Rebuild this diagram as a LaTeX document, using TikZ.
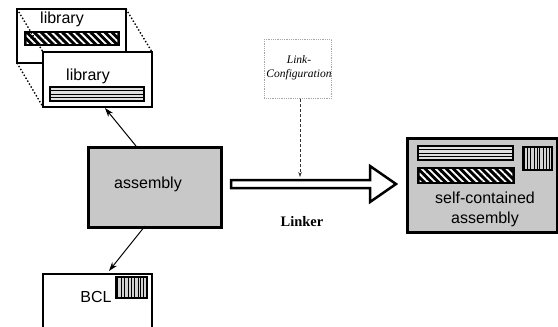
\documentclass[tikz,border=0pt]{standalone}
\usepackage{fontspec}
\setmainfont{Liberation Sans}
\newfontfamily\serifface{Liberation Serif}
\usetikzlibrary{arrows.meta,patterns.meta}
\definecolor{boxgray}{RGB}{200,200,200}
\tikzset{
  box/.style={draw=black,line width=2.5pt},
  label/.style={font=\fontsize{16}{18}\selectfont,inner sep=0pt},
  conn/.style={draw=black,line width=1pt,-{Stealth[length=9pt,width=6pt]}},
  fold/.style={draw=black,line width=1.4pt,dotted},
}
% striped bar: light body with three rules
\newcommand\stripedbar[4]{%
  \fill[black!12] (#1,#2) rectangle (#3,#4);
  \foreach \k in {1,2,3}{\draw[line width=1pt] (#1,{#2+\k*(#4-#2)/4}) -- (#3,{#2+\k*(#4-#2)/4});}
  \draw[line width=1.3pt] (#1,#2) rectangle (#3,#4);}
% hatched bar: black body with white slanted stripes
\newcommand\hatchedbar[4]{%
  \fill[black] (#1,#2) rectangle (#3,#4);
  \fill[pattern={Lines[angle=-45,distance=5pt,line width=1.8pt]},pattern color=white] ({#1+1.6},{#2+1.6}) rectangle ({#3-1.6},{#4-1.6});
  \draw[line width=1.3pt] (#1,#2) rectangle (#3,#4);}
% barcode glyph
\newcommand\barcode[4]{%
  \fill[boxgray!80!white] (#1,#2) rectangle (#3,#4);
  \foreach \f in {0.05,0.17,0.26,0.4,0.5,0.58,0.72,0.8,0.9}{\draw[line width=0.9pt] ({#1+\f*(#3-#1)},#2) -- ({#1+\f*(#3-#1)},#4);}
  \draw[line width=1.3pt] (#1,#2) rectangle (#3,#4);}
\begin{document}
\begin{tikzpicture}[x=1pt,y=-1pt]
\useasboundingbox (0,0) rectangle (558,327);

% back library card
\coordinate (bTL) at (17,9);  \coordinate (bTR) at (126,9);
\coordinate (bBL) at (17,63);
\filldraw[box,fill=white] (bTL) rectangle (126,63);
\node[label] (lib1) at (62,19) {library};
\hatchedbar{25}{32}{119}{45}

% front library card
\coordinate (fTL) at (43,52); \coordinate (fTR) at (152,52);
\coordinate (fBL) at (43,107);
\draw[fold] (bTL) -- (fTL);
\draw[fold] (bBL) -- (fBL);
\draw[fold] (bTR) -- (fTR);
\filldraw[box,fill=white] (fTL) rectangle (152,107);
\node[label] (lib2) at (88,76) {library};
\stripedbar{50}{87}{144}{101}

% assembly
\node[box,fill=boxgray,minimum width=133pt,minimum height=80pt,anchor=north west] (asm) at (87,146) {};
\node[label] (asmtext) at (148,184) {assembly};
\coordinate (asmUp) at (136,146);
\coordinate (libIn) at (105,108);
\draw[conn] (asmUp) -- (libIn);

% BCL card, cut off at the lower edge
\draw[box] (43,330) -- (43,274) -- (152,274) -- (152,330);
\node[label] (bcl) at (96,297) {BCL};
\barcode{116}{277}{147}{298}
\coordinate (asmDown) at (145,226);
\coordinate (bclIn) at (109,271);
\draw[conn] (asmDown) -- (bclIn);

% link configuration
\node[draw=gray!70,densely dotted,line width=0.8pt,minimum width=67pt,minimum height=59pt,anchor=north west] (cfg) at (264,39) {};
\node[font=\serifface\itshape\fontsize{11.5}{13}\selectfont,align=center,inner sep=0pt] (cfgtext) at (299,68) {Link-\\[1pt]Configuration};
\coordinate (cfgIn) at (300,177);
\draw[densely dashed,line width=0.6pt,draw=black!80,-{Stealth[length=5pt,width=3.5pt]}] (cfg.south -| cfgIn) -- (cfgIn);

% linker arrow
\draw[line width=2.5pt,line join=miter,fill=white] (231,180) -- (370,180) -- (370,166) -- (396,184) -- (370,202) -- (370,188) -- (231,188) -- cycle;
\node[font=\serifface\bfseries\fontsize{14.5}{16}\selectfont,inner sep=0pt] (linker) at (302,222) {Linker};

% self-contained assembly
\node[box,fill=boxgray,minimum width=150pt,minimum height=94pt,anchor=north west] (sca) at (406,137) {};
\stripedbar{418}{146}{513}{160}
\hatchedbar{418}{168}{514}{183}
\barcode{523}{147}{552}{170}
\node[label,align=center] (scatext) at (485,209) {self-contained\\[2pt]assembly};
\end{tikzpicture}
\end{document}
